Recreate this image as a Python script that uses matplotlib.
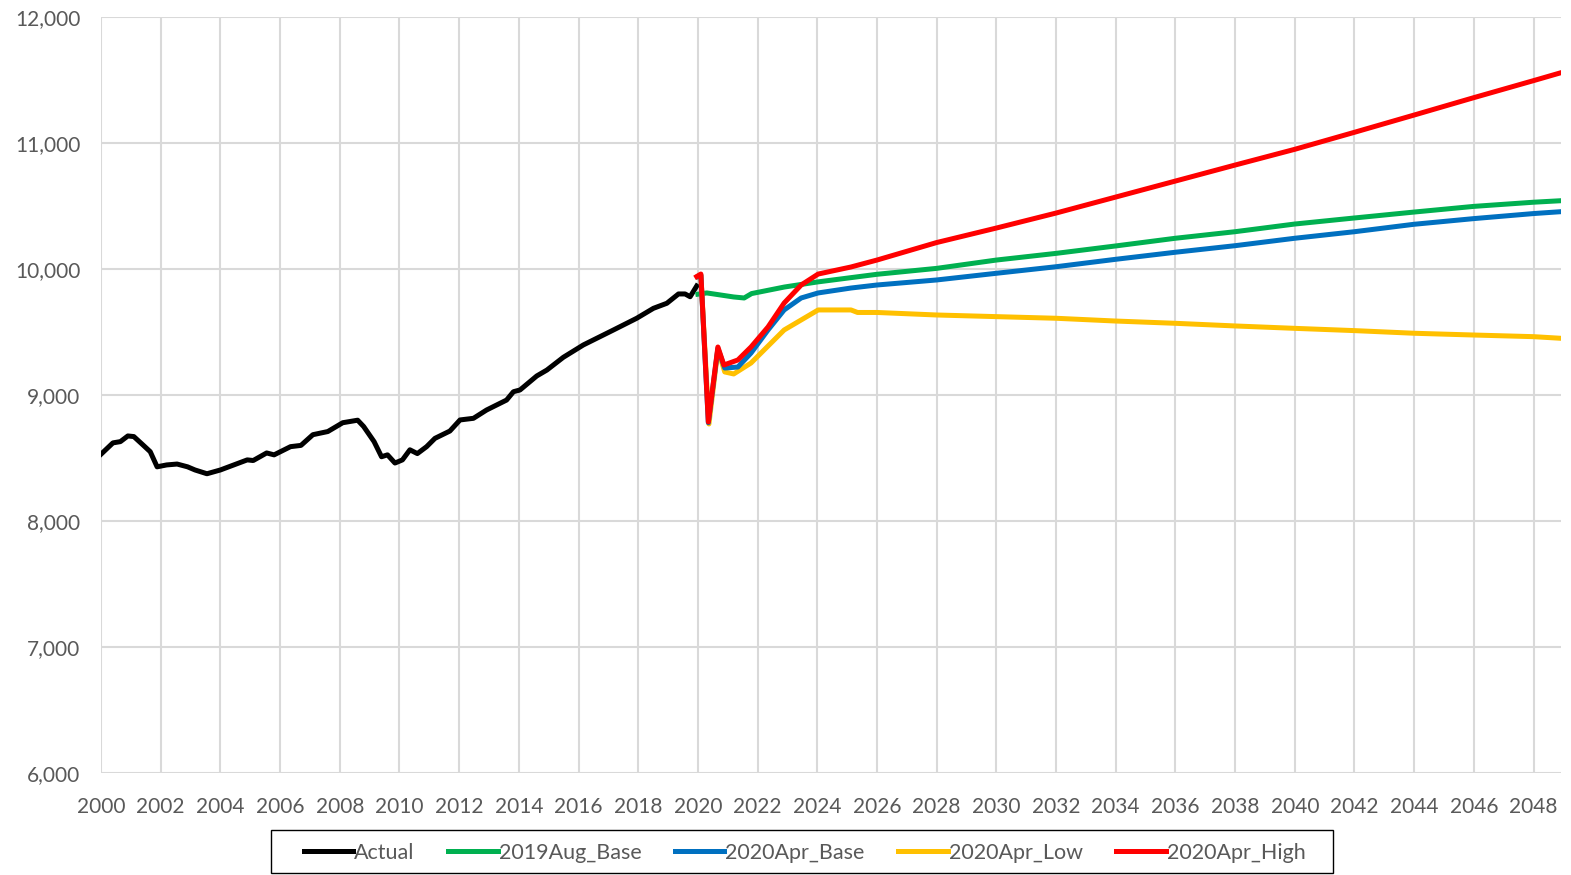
import matplotlib.pyplot as plt
from matplotlib.patches import Rectangle
from matplotlib.ticker import FuncFormatter

# Values (decimal years)
actual_yr = [2000.0, 2000.4, 2000.65, 2000.9, 2001.1, 2001.4, 2001.65, 2001.88, 2002.2, 2002.55,
             2002.9, 2003.15, 2003.55, 2004.0, 2004.45, 2004.9, 2005.1, 2005.55, 2005.8, 2006.35,
             2006.7, 2007.1, 2007.6, 2008.1, 2008.6, 2008.8, 2009.15, 2009.4, 2009.6, 2009.85,
             2010.1, 2010.35, 2010.6, 2010.91, 2011.19, 2011.69, 2012.03, 2012.48, 2012.92, 2013.59,
             2013.82, 2014.04, 2014.6, 2014.94, 2015.49, 2016.16, 2016.72, 2017.17, 2017.95, 2018.51,
             2018.96, 2019.35, 2019.57, 2019.74, 2019.96]
actual_val = [8530, 8620, 8630, 8675, 8670, 8605, 8550, 8430, 8445, 8452,
              8430, 8405, 8375, 8405, 8445, 8485, 8480, 8540, 8525, 8590,
              8600, 8685, 8710, 8780, 8800, 8750, 8630, 8510, 8525, 8460,
              8485, 8565, 8535, 8590, 8656, 8714, 8802, 8815, 8881, 8960,
              9026, 9040, 9151, 9198, 9299, 9397, 9463, 9516, 9609, 9688,
              9728, 9802, 9802, 9780, 9865]

aug19_yr = [2020.0, 2020.3, 2021.2, 2021.55, 2021.8, 2022.9, 2024.0, 2026, 2028, 2030,
            2032, 2034, 2036, 2038, 2040, 2042, 2044, 2046, 2048, 2048.92]
aug19_val = [9800, 9810, 9778, 9770, 9805, 9857, 9897, 9958, 10005, 10071,
             10124, 10183, 10244, 10296, 10357, 10405, 10452, 10497, 10530, 10542]

base_yr = [2020.0, 2020.1, 2020.35, 2020.67, 2020.9, 2021.34, 2021.78, 2022.35, 2022.89, 2023.46,
           2024.03, 2025.13, 2026, 2028, 2030, 2032, 2034, 2036, 2038, 2040,
           2042, 2044, 2046, 2048, 2048.92]
base_val = [9940, 9950, 8780, 9370, 9214, 9222, 9333, 9516, 9675, 9770,
            9810, 9849, 9873, 9913, 9966, 10018, 10077, 10133, 10185, 10244,
            10296, 10355, 10400, 10440, 10455]

low_yr = [2020.0, 2020.1, 2020.37, 2020.67, 2020.9, 2021.2, 2021.78, 2022.89, 2024.03, 2025.13,
          2025.35, 2026, 2028, 2030, 2032, 2034, 2036, 2038, 2040, 2042,
          2044, 2046, 2048, 2048.92]
low_val = [9940, 9950, 8770, 9360, 9183, 9167, 9254, 9516, 9675, 9675,
           9655, 9655, 9635, 9622, 9609, 9587, 9569, 9548, 9529, 9511,
           9490, 9476, 9463, 9450]

high_yr = [2019.96, 2020.1, 2020.35, 2020.67, 2020.87, 2021.34, 2021.78, 2022.35, 2022.89, 2023.46,
           2024.03, 2025.13, 2026, 2028, 2030, 2032, 2034, 2036, 2038, 2040,
           2042, 2044, 2046, 2048, 2048.92]
high_val = [9940, 9960, 8786, 9381, 9238, 9278, 9381, 9540, 9730, 9873,
            9960, 10016, 10071, 10210, 10325, 10444, 10571, 10698, 10825, 10950,
            11085, 11222, 11360, 11495, 11558]

x_ticks = list(range(2000, 2049, 2))
y_ticks = list(range(6000, 12001, 1000))

plt.rcParams['font.family'] = ['Lato', 'DejaVu Sans']
txt = '#595959'
grid_c = '#D9D9D9'
W, H = 1571, 875

fig = plt.figure(figsize=(15.71, 8.75), dpi=100)
ax = fig.add_axes([101 / W, 1 - 773 / H, 1460 / W, 756 / H])

lw = 3.6
l_act, = ax.plot(actual_yr, actual_val, c='black', lw=lw, label='Actual', zorder=3)
l_aug, = ax.plot(aug19_yr, aug19_val, c='#00B050', lw=lw, label='2019Aug_Base', zorder=3)
l_low, = ax.plot(low_yr, low_val, c='#FFC000', lw=lw, label='2020Apr_Low', zorder=3)
l_base, = ax.plot(base_yr, base_val, c='#0070C0', lw=lw, label='2020Apr_Base', zorder=4)
l_high, = ax.plot(high_yr, high_val, c='#FF0000', lw=lw, label='2020Apr_High', zorder=5)

ax.set_xlim(2000, 2048.92)
ax.set_ylim(6000, 12000)
ax.set_xticks(x_ticks)
ax.set_yticks(y_ticks)
ax.yaxis.set_major_formatter(FuncFormatter(lambda v, p: f'{int(v):,}'))
ax.grid(True, color=grid_c, lw=1.5)
ax.set_axisbelow(True)
for s in ax.spines.values():
    s.set_visible(False)
ax.tick_params(axis='both', length=0, labelsize=15, labelcolor=txt)
ax.tick_params(axis='y', pad=15)
ax.tick_params(axis='x', pad=17)

# legend without its own frame, box drawn separately to match the wide frame
leg = fig.legend(handles=[l_act, l_aug, l_base, l_low, l_high], loc='center',
                 bbox_to_anchor=(804.5 / W, 1 - 853 / H), ncol=5, fontsize=15.5,
                 frameon=False, handlelength=2.3, handletextpad=0.05,
                 columnspacing=1.55, borderpad=0, borderaxespad=0)
for t in leg.get_texts():
    t.set_color(txt)
fig.patches.append(Rectangle((271 / W, 2 / H), (1333 - 271) / W, (874 - 831) / H,
                             transform=fig.transFigure, fill=False,
                             edgecolor='black', lw=1.0))

fig.savefig('out.png', dpi=100)
